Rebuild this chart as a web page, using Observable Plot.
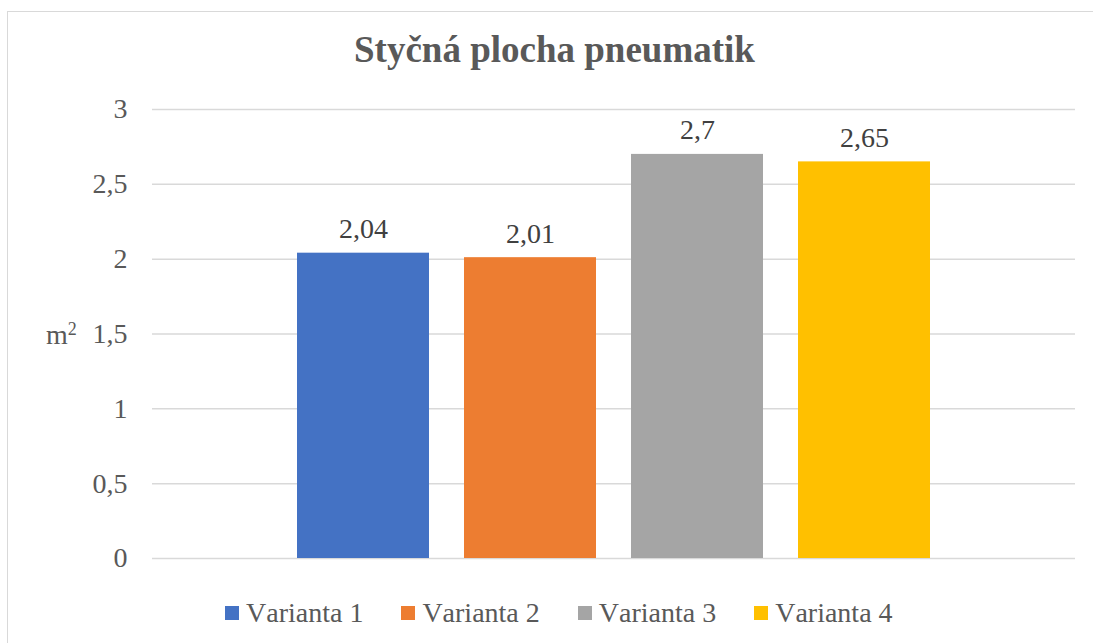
<!DOCTYPE html>
<html>
<head>
<meta charset="utf-8">
<script src="https://cdn.jsdelivr.net/npm/d3@7"></script>
<script src="https://cdn.jsdelivr.net/npm/@observablehq/plot@0.6"></script>
<style>
  html, body { margin: 0; padding: 0; background: #fff; overflow: hidden; }
  #wrap { position: relative; width: 1093px; height: 643px; overflow: hidden; color: #595959; }
  #wrap, #wrap *, #wrap svg text { font-family: "Liberation Serif", "Times New Roman", serif !important; }
  #frame { position: absolute; left: 7px; top: 11px; width: 1200px; height: 700px;
    border: 1.5px solid #d9d9d9; box-sizing: border-box; }
  #title { position: absolute; left: 0; width: 1109px; top: 31px; text-align: center;
    font-size: 37px; font-weight: bold; line-height: 37px; white-space: nowrap; }
  #ylab { position: absolute; left: 46px; top: 320.6px; font-size: 28px; line-height: 28px; }
  #ylab sup { font-size: 18px; vertical-align: 9px; line-height: 0; }
  #legend { position: absolute; left: 225px; top: 598.6px; display: flex; align-items: center;
    font-size: 28px; line-height: 28px; white-space: nowrap; font-kerning: none; }
  .item { display: flex; align-items: center; margin-right: 38px; }
  .sw { width: 14px; height: 14px; margin-right: 7px; }
  #chart { position: absolute; left: 0; top: 0; }
</style>
</head>
<body>
<div id="wrap">
  <div id="frame"></div>
  <div id="chart"></div>
  <div id="title"></div>
  <div id="ylab">m<sup>2</sup></div>
  <div id="legend"></div>
</div>
<script>
const titleText = "Styčná plocha pneumatik";
const categories = ["Varianta 1", "Varianta 2", "Varianta 3", "Varianta 4"];
const values = [2.04, 2.01, 2.7, 2.65];
const colors = ["#4472C4", "#ED7D31", "#A5A5A5", "#FFC000"];
const yTicks = [0, 0.5, 1, 1.5, 2, 2.5, 3];

const serif = "Liberation Serif, Times New Roman, serif";
const fmt = d => String(d).replace(".", ",");
const data = categories.map((c, i) => ({cat: c, value: values[i]}));

document.getElementById("title").textContent = titleText;

const chart = Plot.plot({
  width: 1093,
  height: 643,
  marginLeft: 152,
  marginRight: 18,
  marginTop: 109,
  marginBottom: 85,
  style: {fontFamily: serif, fontSize: "28px", color: "#595959", background: "transparent"},
  x: {domain: categories, paddingInner: 0.211, paddingOuter: 0.864, axis: null},
  y: {domain: [0, 3]},
  color: {domain: categories, range: colors},
  marks: [
    Plot.gridY(yTicks, {stroke: "#d9d9d9", strokeOpacity: 1, strokeWidth: 1.5}),
    Plot.barY(data, {x: "cat", y: "value", fill: "cat"}),
    Plot.text(data, {x: "cat", y: "value", text: d => fmt(d.value), dy: -24, fill: "#404040", fontSize: 28, fontFamily: serif}),
    Plot.axisY(yTicks, {tickSize: 0, tickPadding: 25, tickFormat: fmt, label: null, fill: "#595959", fontSize: 28, fontFamily: serif})
  ]
});
document.getElementById("chart").appendChild(chart);

const legend = document.getElementById("legend");
categories.forEach((c, i) => {
  const item = document.createElement("div");
  item.className = "item";
  const sw = document.createElement("div");
  sw.className = "sw";
  sw.style.background = colors[i];
  const t = document.createElement("span");
  t.textContent = c;
  item.appendChild(sw);
  item.appendChild(t);
  legend.appendChild(item);
});
</script>
</body>
</html>
